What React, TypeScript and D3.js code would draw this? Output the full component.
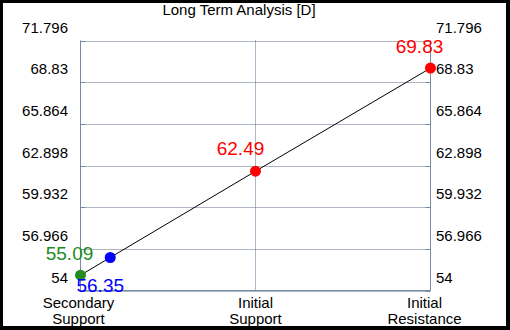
import React from "react";
import * as d3 from "d3";

// chart values
const categories = ["Secondary Support", "Initial Support", "Initial Resistance"];
const yTicks = [54, 56.966, 59.932, 62.898, 65.864, 68.83, 71.796];
const levelNames = ["Secondary Support", "Primary Support", "Initial Support", "Initial Resistance"];
const levelValues = [55.09, 56.35, 62.49, 69.83];
const levelX = [0, 0.17, 1, 2];
const levelColors = ["#228b22", "#0000ff", "#ff0000", "#ff0000"];

const W = 510;
const H = 330;
const left = 80.5;
const right = 430.5;
const top = 40.5;
const bottom = 290.5;
const axisColor = "#7889a4";
const gridColor = "#5f6f8c";
const font = "'Liberation Sans', Arial, sans-serif";

// label offsets (relative to the point)
const labelOffsets = [
  [-11, -15],
  [-10, 35],
  [-15, -16],
  [-11, -15],
];
const catDx = [-2, 0, -6];

export default function App() {
  const x = d3.scaleLinear().domain([0, 2]).range([left, right]);
  const y = d3.scaleLinear().domain([54, 71.796]).range([bottom, top]);

  const line = d3
    .line<number>()
    .x((d, i) => x(levelX[i]))
    .y((d) => y(d));

  return (
    <svg
      width={W}
      height={H}
      style={{ position: "fixed", left: 0, top: 0, fontFamily: font }}
    >
      <rect x={0} y={0} width={W} height={H} fill="#000" />
      <rect x={3} y={3} width={W - 7} height={H - 7} fill="#fff" />

      {/* title */}
      <text x={239} y={15} fontSize={15} textAnchor="middle" fill="#000">
        Long Term Analysis [D]
      </text>

      {/* grid */}
      {yTicks.map((t) => {
        const gy = Math.round(y(t)) + 0.5;
        return (
          <g key={t}>
            <line x1={left} x2={right} y1={gy} y2={gy} stroke={gridColor} strokeDasharray="1,1" />
            <line x1={left} x2={left + 5} y1={gy} y2={gy} stroke={axisColor} />
            <line x1={right - 5} x2={right} y1={gy} y2={gy} stroke={axisColor} />
            <text x={68} y={y(t) - 8} fontSize={15} textAnchor="end" fill="#000">
              {t}
            </text>
            <text x={436} y={y(t) - 8} fontSize={15} textAnchor="start" fill="#000">
              {t}
            </text>
          </g>
        );
      })}
      <line x1={x(1)} x2={x(1)} y1={top} y2={bottom} stroke={gridColor} strokeDasharray="1,1" />

      {/* axes */}
      <line x1={left} x2={left} y1={top} y2={bottom} stroke={axisColor} />
      <line x1={right} x2={right} y1={top} y2={bottom} stroke={axisColor} />
      <line x1={left} x2={right} y1={bottom} y2={bottom} stroke={axisColor} />

      {/* category labels */}
      {categories.map((c, i) => {
        const parts = c.split(" ");
        return (
          <text key={c} fontSize={15} textAnchor="middle" fill="#000">
            <tspan x={x(i) + catDx[i]} y={308}>{parts[0]}</tspan>
            <tspan x={x(i) + catDx[i]} y={324}>{parts[1]}</tspan>
          </text>
        );
      })}

      {/* line + points */}
      <path d={line(levelValues) || ""} fill="none" stroke="#000" strokeWidth={1} />
      {levelValues.map((v, i) => (
        <g key={levelNames[i]}>
          <circle cx={x(levelX[i])} cy={y(v)} r={5.5} fill={levelColors[i]} />
          <text
            x={x(levelX[i]) + labelOffsets[i][0]}
            y={y(v) + labelOffsets[i][1]}
            fontSize={19}
            textAnchor="middle"
            fill={levelColors[i]}
          >
            {v.toFixed(2)}
          </text>
        </g>
      ))}
    </svg>
  );
}
